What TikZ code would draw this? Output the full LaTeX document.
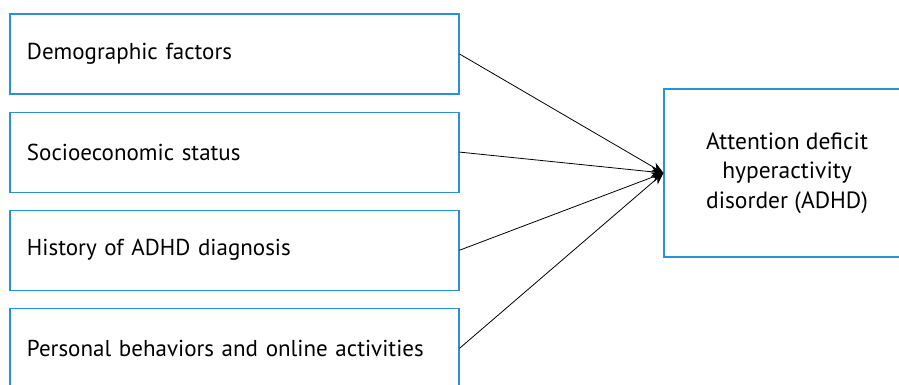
\documentclass[tikz,border=0pt]{standalone}
\usepackage{fontspec}
\setmainfont{PT Sans}
\usetikzlibrary{positioning,arrows.meta}
\definecolor{boxblue}{RGB}{40,145,215}
\tikzset{
  factor/.style={draw=boxblue, line width=1.1pt, minimum width=449pt, minimum height=80pt,
    text width=415pt, inner xsep=17pt, align=left, font=\fontsize{23}{27}\selectfont},
  outcome/.style={draw=boxblue, line width=1.1pt, minimum width=246pt, minimum height=168pt,
    align=center, font=\fontsize{23.5}{29.5}\selectfont},
  link/.style={-{Stealth[length=12pt,width=10pt]}, line width=0.8pt}
}
\begin{document}
\begin{tikzpicture}[x=1pt,y=1pt,node distance=17pt]
\useasboundingbox (0,0) rectangle (899,-385);
\clip (0,0) rectangle (899,-385);
% factors on the left
\node[factor] (demo) at (234.5,-54) {Demographic factors};
\node[factor, below=of demo] (socio) {Socioeconomic status};
\node[factor, below=of socio] (hist) {History of ADHD diagnosis};
\node[factor, below=of hist] (pers) {Personal behaviors and online activities};
% outcome
\node[outcome] (adhd) at (787,-173) {Attention deficit\\hyperactivity\\disorder (ADHD)};
\draw[link] (demo.east) -- (adhd.west);
\draw[link] (socio.east) -- (adhd.west);
\draw[link] (hist.east) -- (adhd.west);
\draw[link] (pers.east) -- (adhd.west);
\end{tikzpicture}
\end{document}
